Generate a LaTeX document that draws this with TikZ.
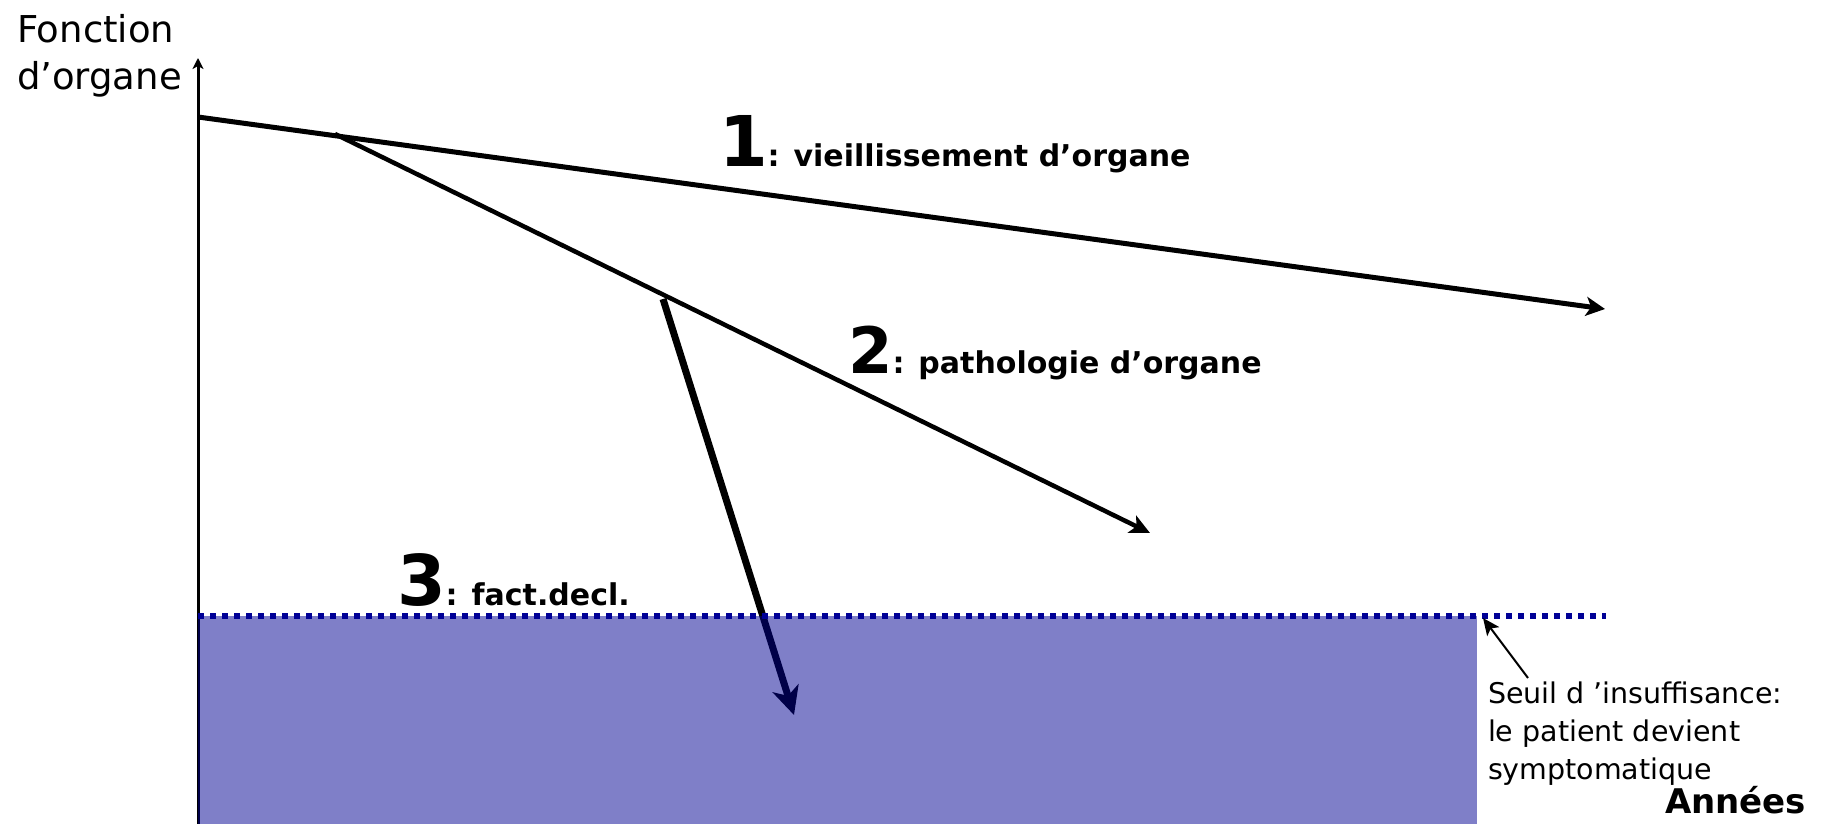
\documentclass[tikz,border=0pt]{standalone}
\usepackage{fontspec}
\setmainfont{DejaVu Sans}
\usetikzlibrary{arrows.meta}
\definecolor{fillblue}{RGB}{0,0,145}
\definecolor{dotblue}{RGB}{0,0,150}
\tikzset{
  lbl/.style={anchor=base west, inner sep=0pt, outer sep=0pt},
  curve/.style={draw=black, line width=5pt},
}
\newcommand{\labtxt}[1]{{\fontsize{30}{30}\selectfont\bfseries #1}}
\begin{document}
\begin{tikzpicture}[x=1pt,y=-1pt]
\useasboundingbox (0,0) rectangle (1829,824);
% coordinates
\coordinate (axB) at (198,824);
\coordinate (axT) at (198,58);
\coordinate (a1s) at (198,117);
\coordinate (a1e) at (1605,309);
\coordinate (a2s) at (335,134);
\coordinate (a2e) at (1150,533);
\coordinate (a3s) at (663,299);
\coordinate (a3e) at (794,715);
\coordinate (thL) at (198,616);
\coordinate (thR) at (1606,616);
\coordinate (rectBR) at (1477,824);
\coordinate (sArrS) at (1528,678);
\coordinate (sArrE) at (1483,618);
% axis
\draw[line width=3pt,-{Stealth[length=11pt,width=11pt,inset=3pt]}] (axB) -- (axT);
% curves
\draw[curve,-{Stealth[length=19pt,width=19pt,inset=5pt]}] (a1s) -- (a1e);
\draw[curve,line width=4.5pt,-{Stealth[length=20pt,width=19pt,inset=5pt]}] (a2s) -- (a2e);
\draw[curve,line width=7pt,-{Stealth[length=28pt,width=27pt,inset=8pt]}] (a3s) -- (a3e);
% insufficiency zone
\fill[fillblue,opacity=0.5] (thL) rectangle (rectBR);
\draw[dotblue,line width=5.5pt,dash pattern=on 6pt off 6pt] (thL) -- (thR);
% threshold pointer
\draw[line width=2pt,-{Stealth[length=17pt,width=15pt,inset=4pt]}] (sArrS) -- (sArrE);
% texts
\node[lbl,font=\fontsize{37}{37}\selectfont] (yl1) at (17,43) {Fonction};
\node[lbl,font=\fontsize{37}{37}\selectfont] (yl2) at (17,90) {d’organe};
\node[lbl] (l1) at (719,167) {{\fontsize{70}{70}\selectfont\bfseries 1}\labtxt{: vieillissement d’organe}};
\node[lbl] (l2) at (848,373) {{\fontsize{64}{64}\selectfont\bfseries 2}\labtxt{: pathologie d’organe}};
\node[lbl] (l3) at (397,605) {{\fontsize{70}{70}\selectfont\bfseries 3}\labtxt{: fact.decl.}};
\node[lbl,font=\fontsize{28.5}{28.5}\selectfont] (s1) at (1488,703) {Seuil d ’insuffisance:};
\node[lbl,font=\fontsize{28.5}{28.5}\selectfont] (s2) at (1488,741) {le patient devient};
\node[lbl,font=\fontsize{28.5}{28.5}\selectfont] (s3) at (1488,779) {symptomatique};
\node[lbl,font=\fontsize{34}{34}\selectfont\bfseries] (ann) at (1665,813) {Années};
\end{tikzpicture}
\end{document}
